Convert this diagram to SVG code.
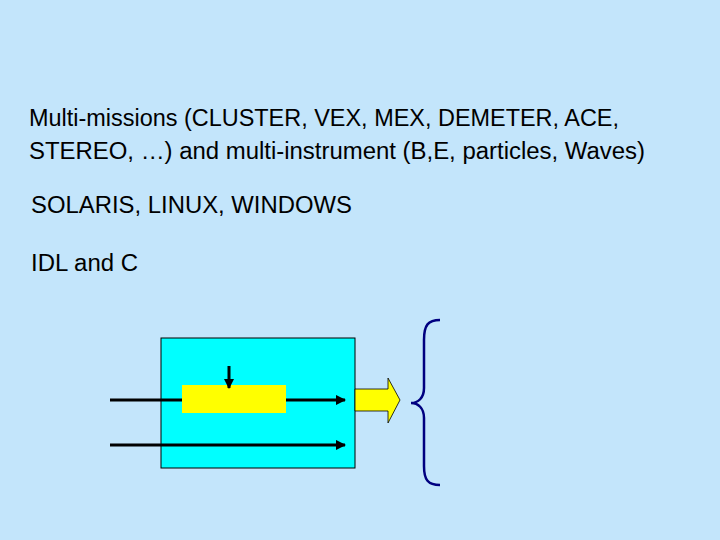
<svg xmlns="http://www.w3.org/2000/svg" width="720" height="540" viewBox="0 0 720 540">
<defs>
<style>
text{font-family:"Liberation Sans",Arial,sans-serif;font-size:23.5px;fill:#000}
.ln{stroke:#000;stroke-width:3;fill:none}
</style>
<marker id="ah" viewBox="0 0 10 10" refX="9" refY="5" markerWidth="3.5" markerHeight="3.5" orient="auto"><path d="M0,0L10,5L0,10z" fill="#000"/></marker>
</defs>
<rect width="720" height="540" fill="#c3e5fb"/>
<g id="texts">
<text x="29" y="126" textLength="590" lengthAdjust="spacingAndGlyphs">Multi-missions (CLUSTER, VEX, MEX, DEMETER, ACE,</text>
<text x="29" y="159" textLength="616" lengthAdjust="spacingAndGlyphs">STEREO, …) and multi-instrument (B,E, particles, Waves)</text>
<text x="31" y="213" textLength="321" lengthAdjust="spacingAndGlyphs">SOLARIS, LINUX, WINDOWS</text>
<text x="31" y="271" textLength="107" lengthAdjust="spacingAndGlyphs">IDL and C</text>
</g>
<g id="box"><rect x="161" y="338" width="194" height="130" fill="#00ffff" stroke="#000" stroke-width="1"/></g>
<g id="proc"><rect x="182" y="385" width="104" height="28" fill="#ffff00"/></g>
<g id="output"><path d="M355,389H388V378L400,400L388,423V411H355z" fill="#ffff00" stroke="#000" stroke-width="0.8"/></g>
<g id="brace"><path d="M440,320C428,320 424,325 424,340V388C424,398 418,403 411,403C418,403 424,408 424,418V466C424,480 428,485 440,485" fill="none" stroke="#000080" stroke-width="2.5"/></g>
<g id="connectors">
<path class="ln" d="M110,400H182"/>
<path class="ln" d="M286,400H345" marker-end="url(#ah)"/>
<path class="ln" d="M110,445H345" marker-end="url(#ah)"/>
<path class="ln" d="M229,366V388" marker-end="url(#ah)"/>
</g>
</svg>
